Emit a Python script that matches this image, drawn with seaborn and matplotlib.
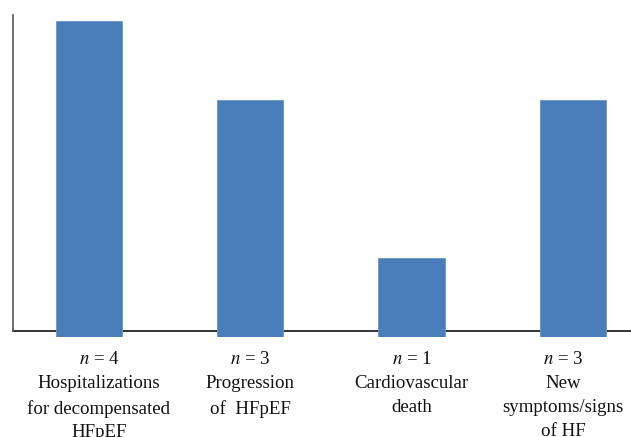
import matplotlib
matplotlib.use("Agg")
import matplotlib.pyplot as plt
import matplotlib.transforms as mtransforms
import seaborn as sns
import pandas as pd

# data
categories = ["Hospitalizations\nfor decompensated\nHFpEF", "Progression\nof  HFpEF",
              "Cardiovascular\ndeath", "New\nsymptoms/signs\nof HF"]
counts = [4, 3, 1, 3]

sns.set_theme(style="white")
plt.rcParams["font.family"] = ["Liberation Serif", "DejaVu Serif"]
plt.rcParams["mathtext.fontset"] = "stix"

df = pd.DataFrame({"event": categories, "n": counts})

fig = plt.figure(figsize=(6.31, 4.37), dpi=100)
ax = fig.add_axes([13 / 631, 1 - 337 / 437, 1 - 13 / 631, (337 - 15) / 437])

sns.barplot(data=df, x="event", y="n", color="#4a7ebb", saturation=1,
            width=0.41, ax=ax, zorder=3, edgecolor="#6a96cc", linewidth=0.6)

ax.set_ylim(0, 4.08)
ax.set_xlim(-0.47, 3.36)
ax.set_xlabel("")
ax.set_ylabel("")
ax.set_yticks([])
ax.set_xticks(range(len(categories)))
ax.set_xticklabels([])
ax.tick_params(axis="x", length=0)

# category labels under the bars, drawn as plain text
# (outer labels sit a little inward of their bars in the original)
nudge_px = [10, 0, 0, -10]
trans = mtransforms.blended_transform_factory(ax.transData, ax.transAxes)
for i, (c, cat) in enumerate(zip(counts, categories)):
    t = trans + mtransforms.ScaledTranslation(nudge_px[i] / 100, 0, fig.dpi_scale_trans)
    ax.text(i, -0.045, f"$\\it{{n}}$ = {c}\n{cat}", transform=t,
            ha="center", va="top", fontsize=13.6, linespacing=1.53,
            color="#111111", multialignment="center")

base = 6 / 79
ax.spines["top"].set_visible(False)
ax.spines["right"].set_visible(False)
ax.spines["bottom"].set_position(("data", base))
ax.spines["bottom"].set_color("#111111")
ax.spines["bottom"].set_linewidth(1.2)
ax.spines["bottom"].set_zorder(2)
ax.spines["left"].set_bounds(base, 4.08)
ax.spines["left"].set_color("#555555")
ax.spines["left"].set_linewidth(1.2)

fig.savefig("out.png", dpi=100)
